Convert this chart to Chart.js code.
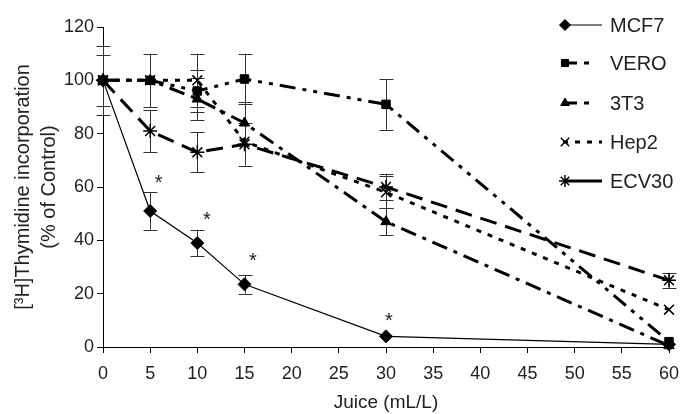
<!DOCTYPE html>
<html>
<head>
<meta charset="utf-8">
<script src="https://cdn.jsdelivr.net/npm/chart.js@4.4.0/dist/chart.umd.min.js"></script>
<style>
  html, body { margin: 0; padding: 0; background: #fff; }
  #wrap { width: 685px; height: 414px; }
</style>
</head>
<body>
<div id="wrap"><canvas id="chart" width="685" height="414"></canvas></div>
<script>
// Juice concentration (mL/L)
const doses = [0, 5, 10, 15, 30, 60];

const mcf7 = [100, 51, 39, 23.5, 4, 1];
const mcf7Err = [0, 7, 5, 3.5, 0, 0];
const vero = [100, 100, 96, 100.5, 91, 2];
const veroErr = [13, 10, 8, 9.5, 9.5, 0];
const t3t3 = [100, 100, 93, 84, 47, 0.5];
const t3t3Err = [9.5, 0, 8, 8, 5, 0];
const hep2 = [100, 100, 100, 77, 58, 14];
const hep2Err = [0, 0, 10, 0, 6, 0];
const ecv30 = [100, 81, 73, 76, 60, 25];
const ecv30Err = [0, 8, 7.5, 8, 5, 2.8];

// significance marks (x, y)
const starX = [5.9, 11, 15.9, 30.3];
const starY = [63, 49, 33.5, 11];

const xTicks = [0, 5, 10, 15, 20, 25, 30, 35, 40, 45, 50, 55, 60];
const yTicks = [0, 20, 40, 60, 80, 100, 120];

const FONT = '"Liberation Sans", Arial, sans-serif';
const INK = '#222';

function pts(ys) {
  return doses.map((x, i) => ({ x: x, y: ys[i] }));
}

function series(label, ys, errs, style) {
  return Object.assign({
    label: label,
    data: pts(ys),
    errs: errs,
    borderColor: '#000',
    backgroundColor: '#000',
    pointBackgroundColor: '#000',
    pointBorderColor: '#000',
    tension: 0,
    fill: false,
    clip: false
  }, style);
}

const datasets = [
  series('ECV30', ecv30, ecv30Err, { borderWidth: 3, borderDash: [17, 9], pointStyle: 'star', pointRadius: 7, pointBorderWidth: 1.5 }),
  series('Hep2', hep2, hep2Err, { borderWidth: 3, borderDash: [5, 7], pointStyle: 'crossRot', pointRadius: 7, pointBorderWidth: 1.5 }),
  series('3T3', t3t3, t3t3Err, { borderWidth: 3, borderDash: [16, 7, 4, 7], pointStyle: 'triangle', pointRadius: 6, pointBorderWidth: 1 }),
  series('VERO', vero, veroErr, { borderWidth: 3, borderDash: [16, 7, 4, 7, 4, 7], pointStyle: 'rect', pointRadius: 6, pointBorderWidth: 1 }),
  series('MCF7', mcf7, mcf7Err, { borderWidth: 1.2, borderDash: [], pointStyle: 'rectRot', pointRadius: 6.5, pointBorderWidth: 1 })
];

// legend sample dashes (long dash then short dash, as in the figure key)
const legendDash = { MCF7: [], VERO: [14, 7, 5, 20], '3T3': [14, 7, 5, 20], Hep2: [5, 7], ECV30: [40, 1] };

// error bars drawn through the scales
const errorBars = {
  id: 'errorBars',
  beforeDatasetsDraw(chart) {
    const ctx = chart.ctx;
    const xs = chart.scales.x, ys = chart.scales.y;
    ctx.save();
    ctx.strokeStyle = '#333';
    ctx.lineWidth = 1;
    chart.data.datasets.forEach(ds => {
      ds.data.forEach((p, i) => {
        const e = ds.errs[i];
        if (!e) return;
        const px = Math.round(xs.getPixelForValue(p.x)) + 0.5;
        const top = ys.getPixelForValue(p.y + e);
        const bot = ys.getPixelForValue(p.y - e);
        ctx.beginPath();
        ctx.moveTo(px, top); ctx.lineTo(px, bot);
        ctx.moveTo(px - 7, Math.round(top) + 0.5); ctx.lineTo(px + 7, Math.round(top) + 0.5);
        ctx.moveTo(px - 7, Math.round(bot) + 0.5); ctx.lineTo(px + 7, Math.round(bot) + 0.5);
        ctx.stroke();
      });
    });
    ctx.restore();
  }
};

// asterisks + legend drawn on top
const extras = {
  id: 'extras',
  afterDraw(chart) {
    const ctx = chart.ctx;
    const xs = chart.scales.x, ys = chart.scales.y;
    ctx.save();
    ctx.fillStyle = INK;
    ctx.font = '20px ' + FONT;
    ctx.textAlign = 'center';
    ctx.textBaseline = 'middle';
    starX.forEach((x, i) => {
      ctx.fillText('*', xs.getPixelForValue(x), ys.getPixelForValue(starY[i]) + 4);
    });

    // legend, top-right inside the plot
    const order = ['MCF7', 'VERO', '3T3', 'Hep2', 'ECV30'];
    const rowY = [25, 63, 103, 142, 181];
    order.forEach((name, i) => {
      const ds = chart.data.datasets.find(d => d.label === name);
      const y = rowY[i];
      ctx.strokeStyle = '#000';
      ctx.lineWidth = ds.borderWidth;
      ctx.setLineDash(legendDash[name]);
      ctx.beginPath();
      ctx.moveTo(563, y); ctx.lineTo(602, y);
      ctx.stroke();
      ctx.setLineDash([]);
      ctx.fillStyle = '#000';
      ctx.lineWidth = ds.pointBorderWidth;
      Chart.helpers.drawPoint(ctx, { pointStyle: ds.pointStyle, radius: ds.pointRadius - 1, rotation: 0, borderWidth: ds.pointBorderWidth }, 565, y);
      ctx.fillStyle = INK;
      ctx.font = '20px ' + FONT;
      ctx.textAlign = 'left';
      ctx.fillText(name, 610, y + 1);
    });
    ctx.restore();
  }
};

new Chart(document.getElementById('chart'), {
  type: 'line',
  data: { datasets: datasets },
  options: {
    responsive: false,
    animation: false,
    layout: { padding: { top: 27, right: 16, left: 0, bottom: 0 } },
    plugins: { legend: { display: false }, tooltip: { enabled: false } },
    scales: {
      x: {
        type: 'linear',
        min: 0, max: 60,
        afterBuildTicks: s => { s.ticks = xTicks.map(v => ({ value: v })); },
        afterFit: s => { s.height = 67; s.paddingRight = 4; },
        grid: { display: true, drawOnChartArea: false, drawTicks: true, tickLength: 6, color: '#000' },
        border: { display: true, color: '#000', width: 1 },
        ticks: { color: INK, font: { family: FONT, size: 18 }, padding: 10, maxRotation: 0, autoSkip: false },
        title: { display: true, text: 'Juice (mL/L)', color: INK, font: { family: FONT, size: 19 }, padding: { top: 2, bottom: 0 } }
      },
      y: {
        min: 0, max: 120,
        afterBuildTicks: s => { s.ticks = yTicks.map(v => ({ value: v })); },
        afterFit: s => { s.width = 103; },
        grid: { display: true, drawOnChartArea: false, drawTicks: true, tickLength: 6, color: '#000' },
        border: { display: true, color: '#000', width: 1 },
        ticks: { color: INK, font: { family: FONT, size: 18 }, padding: 3 },
        title: { display: true, text: ['[³H]Thymidine incorporation', '(% of Control)'], color: INK, font: { family: FONT, size: 20, lineHeight: 1.3 }, padding: { top: 10, bottom: 0 } }
      }
    }
  },
  plugins: [errorBars, extras]
});
</script>
</body>
</html>
